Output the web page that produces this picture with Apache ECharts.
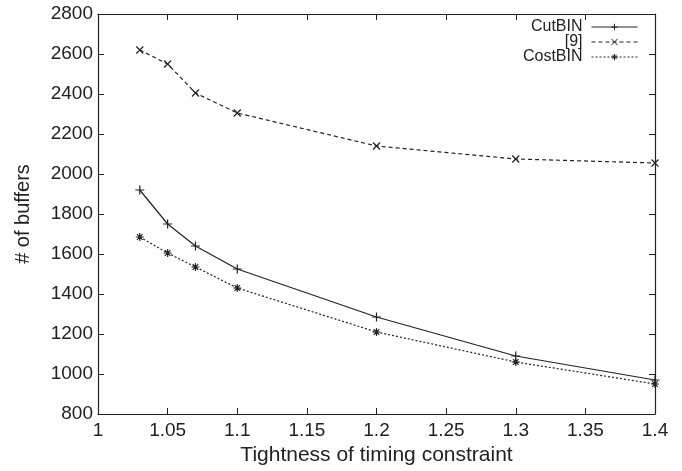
<!DOCTYPE html>
<html><head><meta charset="utf-8">
<script src="https://cdn.jsdelivr.net/npm/echarts@6/dist/echarts.min.js"></script>
<style>html,body{margin:0;padding:0;background:#fff}#c{width:682px;height:471px}</style>
</head><body><div id="c"></div>
<script>
const xValues = [1.03, 1.05, 1.07, 1.1, 1.2, 1.3, 1.4];
const cutBIN = [1920, 1750, 1640, 1525, 1285, 1090, 970];
const ref9 = [2620, 2550, 2405, 2305, 2140, 2075, 2055];
const costBIN = [1685, 1605, 1535, 1430, 1210, 1060, 950];
const seriesNames = ['CutBIN', '[9]', 'CostBIN'];

const C = '#222';
const FONT = 'Liberation Sans, Arial, sans-serif';
function pairs(ys){ return xValues.map((x,i)=>[x, ys[i]]); }
const plus = 'path://M5,0L5,10M0,5L10,5';
const cross = 'path://M0,0L10,10M10,0L0,10';
const star = 'path://M5,0L5,10M0,5L10,5M1.5,1.5L8.5,8.5M8.5,1.5L1.5,8.5';

function mkSeries(name, ys, sym, size, type){
  return {
    name, type:'line', data: pairs(ys), symbol: sym, symbolSize: size,
    showAllSymbol: true,
    lineStyle:{color:C, width:1.2, type:type},
    itemStyle:{color:C, borderColor:C, borderWidth:1.2},
    emphasis:{disabled:true}, animation:false
  };
}
const axisCommon = {
  axisLine:{show:true, lineStyle:{color:C, width:1.2}},
  axisTick:{show:true, inside:true, length:6, lineStyle:{color:C, width:1}},
  splitLine:{show:false}
};
const chart = echarts.init(document.getElementById('c'));
chart.setOption({
  animation:false,
  backgroundColor:'#fff',
  grid:{left:98, right:27, top:14, bottom:57},
  legend:{
    orient:'vertical', right:39, top:14, align:'right',
    itemWidth:46, itemHeight:8, itemGap:-1,
    lineStyle:{width:1},
    itemStyle:{borderWidth:1},
    textStyle:{fontFamily:FONT, fontSize:16, color:C, padding:[0,4,0,0]},
    data: seriesNames
  },
  xAxis:[
    Object.assign({type:'value', min:1, max:1.4, interval:0.05,
      name:'Tightness of timing constraint', nameLocation:'middle', nameGap:30,
      nameTextStyle:{fontFamily:FONT, fontSize:21, color:C},
      axisLabel:{fontFamily:FONT, fontSize:19, color:C, margin:7,
        formatter:v=>String(+v.toFixed(2))}}, axisCommon),
    Object.assign({type:'value', min:1, max:1.4, interval:0.05, position:'top',
      axisLabel:{show:false}}, axisCommon)
  ],
  yAxis:[
    Object.assign({type:'value', min:800, max:2800, interval:200,
      name:'# of buffers', nameLocation:'middle', nameGap:65,
      nameTextStyle:{fontFamily:FONT, fontSize:20, color:C},
      axisLabel:{fontFamily:FONT, fontSize:19, color:C, margin:5,
        formatter:v=>String(v)}}, axisCommon),
    Object.assign({type:'value', min:800, max:2800, interval:200, position:'right',
      axisLabel:{show:false}}, axisCommon)
  ],
  series:[
    mkSeries(seriesNames[0], cutBIN, plus, 9, 'solid'),
    mkSeries(seriesNames[1], ref9, cross, 7, [4,3]),
    mkSeries(seriesNames[2], costBIN, star, 8, [2,2])
  ]
});
</script></body></html>
